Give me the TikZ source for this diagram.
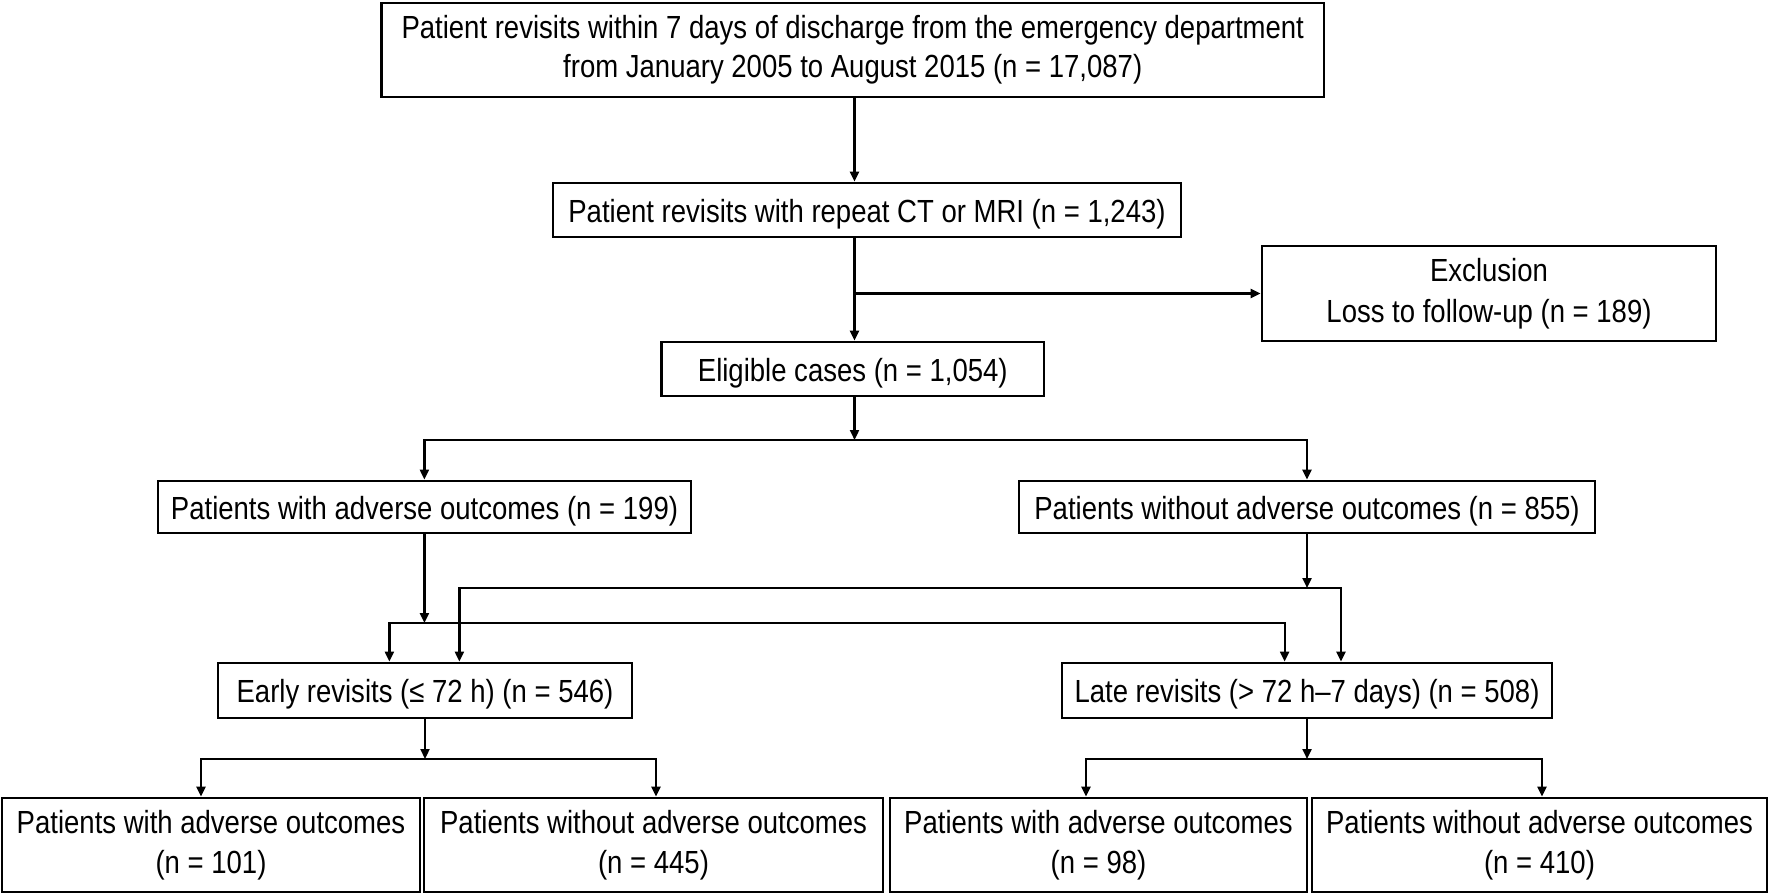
\documentclass[tikz,border=0pt]{standalone}
\usepackage{fontspec}
\setmainfont[FakeStretch=0.86]{Liberation Sans}
\usetikzlibrary{arrows.meta}
\begin{document}
\begin{tikzpicture}[x=0.5pt,y=-0.5pt,
  box/.style={draw,line width=1.4pt,rectangle,inner sep=0pt,align=center,
    font=\fontsize{16}{19}\selectfont,execute at begin node={\rule{0pt}{15.4pt}}},
  twoline/.style={execute at begin node={\rule{0pt}{#1}}},
  arr/.style={line width=1.1pt,-{Triangle[length=5pt,width=4.5pt]}}]
\useasboundingbox (0,0) rectangle (1770,895);
% nodes
\node[box,twoline=16.4pt,minimum width=942.5*0.5pt,minimum height=94*0.5pt,font=\fontsize{16}{19.5}\selectfont] (b1) at (852.75,50)
  {Patient revisits within 7 days of discharge from the emergency department\\from January 2005 to August 2015 (n = 17,087)};
\node[box,minimum width=628*0.5pt,minimum height=54*0.5pt] (b2) at (867,210)
  {Patient revisits with repeat CT or MRI (n = 1,243)};
\node[box,twoline=19.4pt,minimum width=454*0.5pt,minimum height=95*0.5pt,font=\fontsize{16}{20.5}\selectfont] (ex) at (1489,293.5)
  {Exclusion\\Loss to follow-up (n = 189)};
\node[box,minimum width=382.5*0.5pt,minimum height=54*0.5pt] (b3) at (852.8,369)
  {Eligible cases (n = 1,054)};
\node[box,minimum width=533*0.5pt,minimum height=52*0.5pt] (b4) at (424.5,507)
  {Patients with adverse outcomes (n = 199)};
\node[box,minimum width=576*0.5pt,minimum height=52*0.5pt] (b5) at (1307,507)
  {Patients without adverse outcomes (n = 855)};
\node[box,minimum width=414*0.5pt,minimum height=55*0.5pt] (early) at (425,690.5)
  {Early revisits (≤ 72 h) (n = 546)};
\node[box,minimum width=490*0.5pt,minimum height=55*0.5pt] (late) at (1307,690.5)
  {Late revisits (> 72 h–7 days) (n = 508)};
\node[box,twoline=17.4pt,minimum width=418*0.5pt,minimum height=94*0.5pt,font=\fontsize{16}{20}\selectfont] (o1) at (211,845)
  {Patients with adverse outcomes\\(n = 101)};
\node[box,twoline=17.4pt,minimum width=459*0.5pt,minimum height=94*0.5pt,font=\fontsize{16}{20}\selectfont] (o2) at (653.5,845)
  {Patients without adverse outcomes\\(n = 445)};
\node[box,twoline=17.4pt,minimum width=417*0.5pt,minimum height=94*0.5pt,font=\fontsize{16}{20}\selectfont] (o3) at (1098.5,845)
  {Patients with adverse outcomes\\(n = 98)};
\node[box,twoline=17.4pt,minimum width=455*0.5pt,minimum height=94*0.5pt,font=\fontsize{16}{20}\selectfont] (o4) at (1539.5,845)
  {Patients without adverse outcomes\\(n = 410)};
% helper coordinates
\coordinate (m) at (854.5,0);
\coordinate (br) at (854.5,293.5);
\coordinate (s1) at (854.5,440);
\coordinate (s2) at (424.4,623);
\coordinate (s3) at (1307,588);
\coordinate (e1) at (389.4,0);
\coordinate (e2) at (459.4,0);
\coordinate (l1) at (1284.6,0);
\coordinate (l2) at (1341,0);
\coordinate (s4) at (425,759);
\coordinate (s5) at (1307,759);
\coordinate (x1) at (201,0);
\coordinate (x2) at (656,0);
\coordinate (x3) at (1086,0);
\coordinate (x4) at (1542,0);
% connectors
\draw[arr] (b1.south -| m) -- (b2.north -| m);
\draw[arr] (b2.south -| m) -- (b3.north -| m);
\draw[arr] (br) -- (br -| ex.west);
\draw[arr] (b3.south -| m) -- (s1);
\draw[arr] (s1) -| (b4.north -| s2);
\draw[arr] (s1) -| (b5.north);
\draw[arr] (b4.south -| s2) -- (s2);
\draw[arr] (s2) -| (early.north -| e1);
\draw[arr] (s2) -| (late.north -| l1);
\draw[arr] (b5.south) -- (s3);
\draw[arr] (s3) -| (early.north -| e2);
\draw[arr] (s3) -| (late.north -| l2);
\draw[arr] (early.south -| s4) -- (s4);
\draw[arr] (s4) -| (o1.north -| x1);
\draw[arr] (s4) -| (o2.north -| x2);
\draw[arr] (late.south -| s5) -- (s5);
\draw[arr] (s5) -| (o3.north -| x3);
\draw[arr] (s5) -| (o4.north -| x4);
\end{tikzpicture}
\end{document}
